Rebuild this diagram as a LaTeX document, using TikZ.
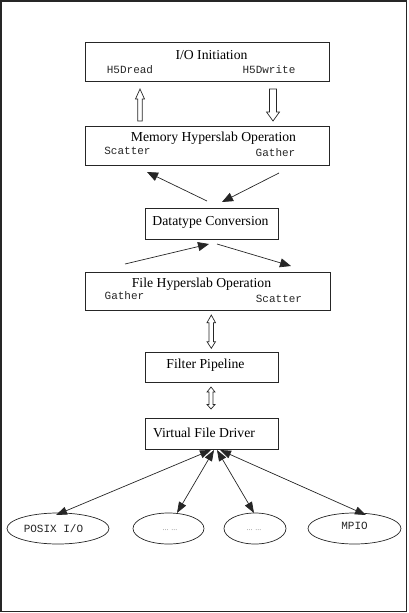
\documentclass[tikz,border=0pt]{standalone}
\usepackage{fontspec}
\setmainfont{Liberation Serif}
\setmonofont{Liberation Mono}
\usetikzlibrary{arrows.meta,shapes.geometric}
\begin{document}
\begin{tikzpicture}[x=1pt,y=-1pt,
  box/.style={draw=black!85,line width=0.8pt,rectangle,inner sep=0pt},
  ttl/.style={inner sep=0pt,font=\fontsize{13.7}{16}\selectfont},
  mono/.style={inner sep=0pt,text=black!85,font=\ttfamily\fontsize{11}{13}\selectfont},
  ell/.style={draw=black!85,line width=0.7pt,ellipse,inner sep=0pt,minimum height=31pt},
  hollow/.style={draw=black!85,line width=0.7pt,fill=white,line join=miter},
  sarrow/.style={draw=black!85,line width=0.7pt,-{Triangle[length=11pt,width=9pt]}},
  darrow/.style={draw=black!85,line width=0.7pt,{Triangle[length=11pt,width=8pt]}-{Triangle[length=11pt,width=8pt]}}]
\useasboundingbox (0,0) rectangle (408,613);
\draw[line width=1.3pt,black!85] (1,1) rectangle (406.5,611.5);

% boxes
\node[box,minimum width=244pt,minimum height=39pt] (io) at (207,61.5) {};
\node[box,minimum width=244pt,minimum height=39pt] (mem) at (207,145.5) {};
\node[box,minimum width=133pt,minimum height=31pt] (dt) at (211.5,223.5) {};
\node[box,minimum width=245pt,minimum height=38pt] (fh) at (207.5,291) {};
\node[box,minimum width=133pt,minimum height=30pt] (fp) at (211.5,367) {};
\node[box,minimum width=133pt,minimum height=31pt] (vfd) at (211.5,433.5) {};

% texts
\node[ttl] (tio) at (211.5,55) {I/O Initiation};
\node[mono] (trd) at (130,69.5) {H5Dread};
\node[mono] (twr) at (269,69.5) {H5Dwrite};
\node[ttl] (tmem) at (213.5,138.5) {Memory Hyperslab Operation};
\node[mono] (tsc1) at (127.5,150.5) {Scatter};
\node[mono] (tga1) at (275.5,152.5) {Gather};
\node[ttl] (tdt) at (210.5,222.5) {Datatype Conversion};
\node[ttl] (tfh) at (201.5,284) {File Hyperslab Operation};
\node[mono] (tga2) at (124.5,295.5) {Gather};
\node[mono] (tsc2) at (279,298.5) {Scatter};
\node[ttl] (tfp) at (205.5,365) {Filter Pipeline};
\node[ttl] (tvfd) at (204,432.5) {Virtual File Driver};

% ellipses
\node[ell,minimum width=102pt] (posix) at (58,528.5) {};
\node[ell,minimum width=71pt] (e2) at (168.5,528.5) {};
\node[ell,minimum width=62pt] (e3) at (255,528.5) {};
\node[ell,minimum width=93pt] (mpio) at (354.5,528.5) {};
\node[mono] (tposix) at (53.5,528.5) {POSIX I/O};
\node[mono] (tmpio) at (354.5,526) {MPIO};
\node[inner sep=0pt,text=black!45,font=\fontsize{8}{9}\selectfont] (td2) at (170,530) {... ...};
\node[inner sep=0pt,text=black!45,font=\fontsize{8}{9}\selectfont] (td3) at (254,530) {... ...};

% hollow block arrows
\draw[hollow] (137.7,121) -- (137.7,99) -- (135.5,99) -- (140,89) -- (144.5,99) -- (142.3,99) -- (142.3,121) -- cycle;
\draw[hollow] (269.5,89) -- (276.5,89) -- (276.5,112) -- (279.5,112) -- (273,121) -- (266.5,112) -- (269.5,112) -- cycle;
\draw[hollow] (211.3,315) -- (215.5,322.7) -- (213.5,322.7) -- (213.5,341.7) -- (215.5,341.7) -- (211.3,348.3) -- (207,341.7) -- (209,341.7) -- (209,322.7) -- (207,322.7) -- cycle;
\draw[hollow] (211,387) -- (215,392) -- (213,392) -- (213,404.5) -- (215,404.5) -- (211,409) -- (207,404.5) -- (209,404.5) -- (209,392) -- (207,392) -- cycle;

% diagonal arrows
\coordinate (a1s) at (207,201);
\coordinate (a1e) at (147,172);
\coordinate (a2s) at (279,173);
\coordinate (a2e) at (222,202);
\coordinate (a3s) at (125,264);
\coordinate (a3e) at (209,244);
\coordinate (a4s) at (217,244);
\coordinate (a4e) at (291,266);
\draw[sarrow] (a1s) -- (a1e);
\draw[sarrow] (a2s) -- (a2e);
\draw[sarrow] (a3s) -- (a3e);
\draw[sarrow] (a4s) -- (a4e);

% VFD to drivers
\coordinate (v1) at (211,450);
\coordinate (v2) at (214,450);
\coordinate (v3) at (217,450);
\coordinate (v4) at (220,450);
\coordinate (p1) at (56,515);
\coordinate (p2) at (177,513);
\coordinate (p3) at (254,513);
\coordinate (p4) at (366,515);
\draw[darrow] (v1) -- (p1);
\draw[darrow] (v2) -- (p2);
\draw[darrow] (v3) -- (p3);
\draw[darrow] (v4) -- (p4);
\end{tikzpicture}
\end{document}
